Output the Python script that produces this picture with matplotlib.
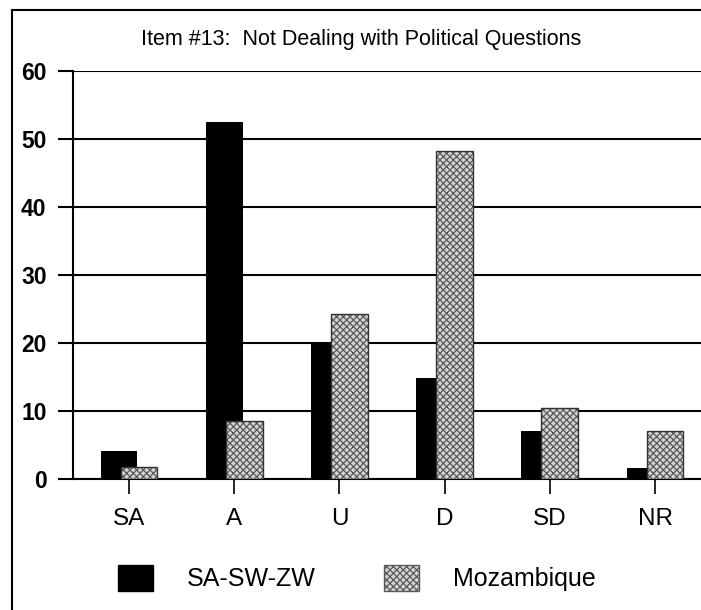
import matplotlib
matplotlib.use("Agg")
import matplotlib.pyplot as plt
from matplotlib.lines import Line2D
from matplotlib.patches import Patch
import numpy as np

# Данные графика
categories = ["SA", "A", "U", "D", "SD", "NR"]
sa_sw_zw = [4.1, 52.5, 20.1, 14.8, 7.0, 1.6]
mozambique = [1.7, 8.6, 24.2, 48.3, 10.5, 7.1]
y_ticks = [0, 10, 20, 30, 40, 50, 60]

plt.rcParams["font.family"] = ["Liberation Sans", "DejaVu Sans"]
plt.rcParams["hatch.linewidth"] = 0.9

W, H = 701, 610
fig = plt.figure(figsize=(W / 100, H / 100), dpi=100)
ax = fig.add_axes([73 / W, 1 - 479 / H, 1 - 73 / W + 0.002, (479 - 71) / H])

x = np.arange(len(categories))
width = 0.35
offset = 0.095

# Черные столбцы
ax.bar(x - offset, sa_sw_zw, width, color="black", zorder=2)
# Серые столбцы со штриховкой
ax.bar(x + offset, mozambique, width, color="#d4d4d4", edgecolor="#5a5a5a",
       hatch="xxxxx", linewidth=0, zorder=3)
ax.bar(x + offset, mozambique, width, fill=False, edgecolor="#333333",
       linewidth=1.0, zorder=4)

ax.set_xlim(-0.533, 5.45)
ax.set_ylim(0, 60)
ax.set_yticks(y_ticks)
ax.set_xticks(x)
ax.set_xticklabels(categories, fontsize=17.5)
ax.set_yticklabels([str(v) for v in y_ticks], fontsize=16.5, fontweight="bold")

ax.yaxis.grid(True, color="black", linewidth=1.5, zorder=0)
ax.set_axisbelow(True)
for side in ["top", "right"]:
    ax.spines[side].set_visible(False)
ax.spines["left"].set_linewidth(1.5)
ax.spines["bottom"].set_linewidth(1.5)
ax.tick_params(axis="y", length=11, width=1.5, pad=8)
ax.tick_params(axis="x", length=11, width=1.2, pad=10)

# Заголовок
fig.text(361 / W, 1 - 40 / H, "Item #13:  Not Dealing with Political Questions",
         ha="center", va="center", fontsize=15.5)

# Рамка
fig.add_artist(Line2D([12 / W, 12 / W], [0, 1 - 10 / H], color="black", linewidth=1.5))
fig.add_artist(Line2D([12 / W, 1], [1 - 10 / H, 1 - 10 / H], color="black", linewidth=1.5))

# Легенда
handles = [
    Patch(facecolor="black", edgecolor="black", label="SA-SW-ZW"),
    Patch(facecolor="#d4d4d4", edgecolor="#5a5a5a", hatch="xxxxx", label="Mozambique"),
]
fig.legend(handles=handles, loc="center", bbox_to_anchor=(357 / W, 1 - 578 / H),
           ncol=2, frameon=False, fontsize=18, handlelength=1.4, handleheight=1.25,
           handletextpad=1.35, columnspacing=2.75)

fig.savefig("out.png", dpi=100)
